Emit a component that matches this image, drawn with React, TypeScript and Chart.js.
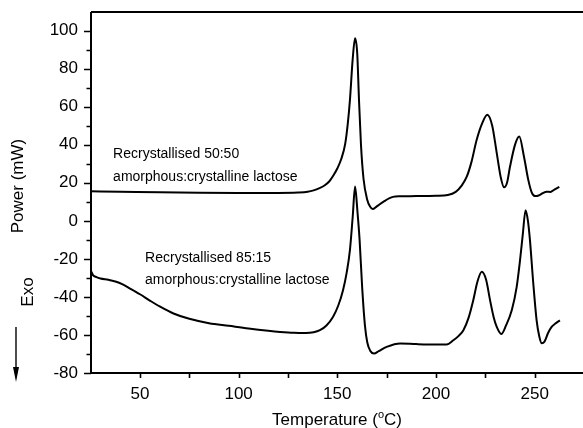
import { useEffect, useRef } from "react";
import { Chart, registerables } from "chart.js";

Chart.register(...registerables);

// DSC traces: temperature (°C) and heat flow (mW)
const tempA = [
  25, 40, 60, 80, 100, 120, 130, 135, 138, 141,
  143.5, 146, 148, 150, 152, 154, 155.3, 156.4, 157.8, 159,
  160.1, 161, 162, 163.3, 165.2, 166.6, 167.9, 170, 173.3, 178.2,
  182, 190, 200, 206, 210, 213, 215.6, 218, 220.6, 223.5,
  226, 228.5, 230.8, 232.8, 234.5, 236, 237.5, 240, 242.2, 244.6,
  246.8, 248.5, 250.2, 252, 254, 256.1, 258, 260, 262.5,
];
const powerA = [
  15.5, 15.3, 15.0, 14.8, 14.7, 14.7, 14.9, 15.3, 16.0, 17.2,
  18.6, 20.8, 23.8, 27.5, 32.5, 40.5, 51, 63.5, 85, 96,
  88, 63.5, 40, 22, 11, 7.5, 6.2, 7.6, 10, 12.6,
  12.9, 13, 13.2, 13.6, 15.2, 18.5, 23.2, 31, 42.5, 51.5,
  55.8, 50, 35.6, 23, 17.6, 20, 28.4, 39.8, 44.3, 33.7,
  21.4, 15, 13, 13.3, 14.5, 15.3, 15.2, 16.4, 17.9,
];

const tempB = [
  25.2, 26.2, 28, 30, 34, 38, 41, 45, 50, 55,
  60, 67, 75, 85, 95, 105, 115, 121, 128, 134,
  138, 141.2, 144.5, 147.8, 150.5, 152.9, 154.8, 156.4, 157.8, 159,
  160.2, 161.3, 162.6, 164, 165.2, 166.8, 168.6, 171, 175, 181.8,
  190, 200, 205.4, 208.8, 211.5, 213.9, 216.5, 218.9, 221, 223.2,
  225.4, 227.4, 229.2, 230.8, 233.1, 235.5, 238.4, 240.9, 242.6, 244,
  245.4, 246.6, 247.6, 249.3, 251, 252.3, 253.6, 255, 256.8, 258.6,
  260.5, 262.8,
];
const powerB = [
  -26.3, -28.5, -29.6, -30.3, -31, -32, -33.3, -35.6, -38.6, -41.9,
  -45, -48.7, -51.5, -53.8, -55.2, -56.6, -57.8, -58.4, -58.9, -59,
  -58.6, -57.5, -55, -50.5, -44.5, -36.5, -27, -15.4, 2, 18,
  5, -10, -35, -55, -64, -68.5, -69.8, -68.5, -66.3, -64.5,
  -64.8, -65, -65, -62.8, -60.5, -57.5, -51, -41.7, -32, -26.8,
  -31, -41.7, -50.5, -55.8, -59.5, -55, -47, -34.7, -20.7, -7,
  5.6, 0, -9.9, -32.8, -52.3, -60.5, -64.4, -63.5, -59, -55.8,
  -54, -52.3,
];

const xTicks = [50, 100, 150, 200, 250];
const xMinorTicks = [75, 125, 175, 225];
const yTicks = [-80, -60, -40, -20, 0, 20, 40, 60, 80, 100];
const yMinorTicks = [-70, -50, -30, -10, 10, 30, 50, 70, 90];

const labelA = ["Recrystallised 50:50", "amorphous:crystalline lactose"];
const labelB = ["Recrystallised 85:15", "amorphous:crystalline lactose"];

const FONT = "'Liberation Sans', Arial, Helvetica, sans-serif";

const toPoints = (xs: number[], ys: number[]) => xs.map((x, i) => ({ x, y: ys[i] }));

const framePlugin = {
  id: "frame",
  afterDatasetsDraw(chart: any) {
    const { ctx, chartArea: a, scales } = chart;
    const xs = scales.x;
    const ys = scales.y;
    ctx.save();
    ctx.strokeStyle = "#000";
    ctx.fillStyle = "#000";
    ctx.lineWidth = 2;
    ctx.lineCap = "butt";

    // axis lines and top frame
    ctx.beginPath();
    ctx.moveTo(a.left, a.top);
    ctx.lineTo(a.left, a.bottom);
    ctx.lineTo(a.right, a.bottom);
    ctx.moveTo(a.left, a.top);
    ctx.lineTo(a.right, a.top);
    ctx.stroke();

    // y ticks (outward)
    ctx.lineWidth = 1.6;
    ctx.beginPath();
    yTicks.forEach((v) => {
      const y = Math.round(ys.getPixelForValue(v)) + 0.5;
      ctx.moveTo(a.left, y);
      ctx.lineTo(a.left - 7, y);
    });
    yMinorTicks.forEach((v) => {
      const y = Math.round(ys.getPixelForValue(v)) + 0.5;
      ctx.moveTo(a.left, y);
      ctx.lineTo(a.left - 4.5, y);
    });
    // x ticks (outward)
    [...xTicks, ...xMinorTicks].forEach((v) => {
      const x = Math.round(xs.getPixelForValue(v)) + 0.5;
      ctx.moveTo(x, a.bottom);
      ctx.lineTo(x, a.bottom + 5);
    });
    ctx.stroke();

    // curve annotations
    ctx.font = `14px ${FONT}`;
    ctx.textAlign = "left";
    ctx.textBaseline = "middle";
    const ax = xs.getPixelForValue(36.4);
    const ay = ys.getPixelForValue(35.1);
    ctx.fillText(labelA[0], ax, ay);
    ctx.fillText(labelA[1], ax, ay + 22.7);
    const bx = xs.getPixelForValue(52.6);
    const by = ys.getPixelForValue(-19.8);
    ctx.fillText(labelB[0], bx, by);
    ctx.fillText(labelB[1], bx, by + 21.7);

    // y axis title
    ctx.font = `17px ${FONT}`;
    ctx.textAlign = "center";
    ctx.save();
    ctx.translate(18, 186);
    ctx.rotate(-Math.PI / 2);
    ctx.fillText("Power (mW)", 0, 0);
    ctx.restore();
    ctx.save();
    ctx.translate(28.5, 292);
    ctx.rotate(-Math.PI / 2);
    ctx.fillText("Exo", 0, 0);
    ctx.restore();

    // exotherm direction arrow
    ctx.lineWidth = 1.4;
    ctx.beginPath();
    ctx.moveTo(16, 327);
    ctx.lineTo(16, 372);
    ctx.stroke();
    ctx.beginPath();
    ctx.moveTo(13, 367);
    ctx.lineTo(19, 367);
    ctx.lineTo(16, 382);
    ctx.closePath();
    ctx.fill();

    // x axis title with superscript degree
    const ty = 420.5;
    const p1 = "Temperature (";
    const p2 = "o";
    const p3 = "C)";
    ctx.font = `17px ${FONT}`;
    const w1 = ctx.measureText(p1).width;
    const w3 = ctx.measureText(p3).width;
    ctx.font = `11px ${FONT}`;
    const w2 = ctx.measureText(p2).width;
    const total = w1 + w2 + w3;
    let x0 = 337 - total / 2;
    ctx.textAlign = "left";
    ctx.font = `17px ${FONT}`;
    ctx.fillText(p1, x0, ty);
    x0 += w1;
    ctx.font = `11px ${FONT}`;
    ctx.fillText(p2, x0, ty - 6);
    x0 += w2;
    ctx.font = `17px ${FONT}`;
    ctx.fillText(p3, x0, ty);
    ctx.restore();
  },
};

export default function App() {
  const ref = useRef<HTMLCanvasElement>(null);

  useEffect(() => {
    if (!ref.current) return;
    const chart = new Chart(ref.current, {
      type: "line",
      data: {
        datasets: [
          {
            label: labelA.join(" "),
            data: toPoints(tempA, powerA),
            borderColor: "#000",
            borderWidth: 2,
            pointRadius: 0,
            cubicInterpolationMode: "monotone",
            fill: false,
          },
          {
            label: labelB.join(" "),
            data: toPoints(tempB, powerB),
            borderColor: "#000",
            borderWidth: 2,
            pointRadius: 0,
            cubicInterpolationMode: "monotone",
            fill: false,
          },
        ],
      },
      options: {
        animation: false,
        responsive: false,
        parsing: false,
        layout: { padding: { top: 12, left: 0, right: 0, bottom: 0 } },
        plugins: {
          legend: { display: false },
          tooltip: { enabled: false },
        },
        scales: {
          x: {
            type: "linear",
            min: 25.2,
            max: 274.5,
            grid: { display: false, drawTicks: false },
            border: { display: false },
            afterBuildTicks: (s: any) => {
              s.ticks = xTicks.map((v) => ({ value: v }));
            },
            afterFit: (s: any) => {
              s.height = 55;
              s.paddingLeft = 0;
              s.paddingRight = 0;
            },
            ticks: {
              color: "#000",
              font: { family: FONT, size: 17 },
              padding: 11,
              maxRotation: 0,
              autoSkip: false,
            },
          },
          y: {
            type: "linear",
            min: -80,
            max: 109.8,
            grid: { display: false, drawTicks: false },
            border: { display: false },
            afterBuildTicks: (s: any) => {
              s.ticks = yTicks.map((v) => ({ value: v }));
            },
            afterFit: (s: any) => {
              s.width = 91;
              s.paddingTop = 0;
              s.paddingBottom = 0;
            },
            ticks: {
              color: "#000",
              font: { family: FONT, size: 17 },
              padding: 13,
              autoSkip: false,
            },
          },
        },
      } as any,
      plugins: [framePlugin],
    });
    return () => chart.destroy();
  }, []);

  return (
    <div style={{ position: "absolute", left: 0, top: 0, width: 583, height: 428, background: "#fff" }}>
      <canvas ref={ref} width={583} height={428} style={{ display: "block", width: 583, height: 428 }} />
    </div>
  );
}
